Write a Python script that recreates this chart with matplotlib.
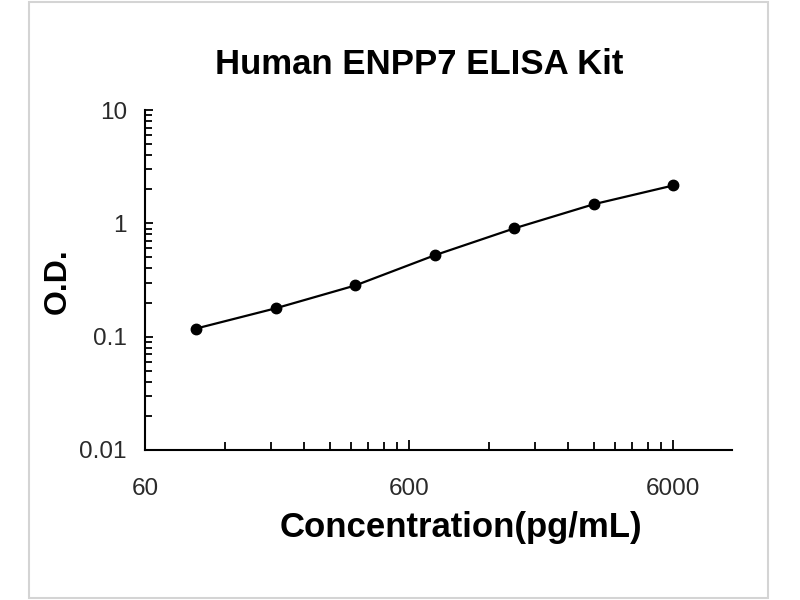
import numpy as np
import matplotlib
matplotlib.use("Agg")
import matplotlib.pyplot as plt
from matplotlib.ticker import FixedLocator, NullFormatter, FixedFormatter
from matplotlib.patches import Rectangle

# standard curve data
conc = [93.75, 187.5, 375, 750, 1500, 3000, 6000]
od = [0.118, 0.178, 0.283, 0.523, 0.903, 1.475, 2.16]

x_ticks = [60, 600, 6000]
x_tick_labels = ['60', '600', '6000']
y_ticks = [0.01, 0.1, 1, 10]
y_tick_labels = ['0.01', '0.1', '1', '10']

title = 'Human ENPP7 ELISA Kit'
x_label = 'Concentration(pg/mL)'
y_label = 'O.D.'

plt.rcParams['font.family'] = ['Liberation Sans', 'DejaVu Sans']

fig = plt.figure(figsize=(8, 6), dpi=100)
ax = fig.add_axes([145 / 800, 1 - 450 / 600, (732 - 145) / 800, (450 - 110) / 600])

ax.plot(conc, od, color='black', linewidth=1.6, marker='o', markersize=7.5)

ax.set_xscale('log')
ax.set_yscale('log')
ax.set_xlim(60, 10000)
ax.set_ylim(0.01, 10)

# ticks like excel: minors at multiples of the base value
ax.xaxis.set_major_locator(FixedLocator(x_ticks))
ax.xaxis.set_major_formatter(FixedFormatter(x_tick_labels))
x_minor = [60 * k * 10 ** d for d in (0, 1) for k in range(2, 10)]
ax.xaxis.set_minor_locator(FixedLocator(x_minor))
ax.xaxis.set_minor_formatter(NullFormatter())

ax.yaxis.set_major_locator(FixedLocator(y_ticks))
ax.yaxis.set_major_formatter(FixedFormatter(y_tick_labels))
y_minor = [k * 10.0 ** d for d in (-2, -1, 0) for k in range(2, 10)]
ax.yaxis.set_minor_locator(FixedLocator(y_minor))
ax.yaxis.set_minor_formatter(NullFormatter())

ax.tick_params(axis='both', which='both', direction='in', width=1.3, colors='black')
ax.tick_params(axis='x', which='major', length=7, pad=20, labelsize=17.5)
ax.tick_params(axis='x', which='minor', length=6)
ax.tick_params(axis='y', which='major', length=6, pad=13, labelsize=17.5)
ax.tick_params(axis='y', which='minor', length=5)
for lab in ax.get_xticklabels() + ax.get_yticklabels():
    lab.set_color('#2a2a2a')

for side in ['top', 'right']:
    ax.spines[side].set_visible(False)
for side in ['left', 'bottom']:
    ax.spines[side].set_linewidth(1.5)
    ax.spines[side].set_color('black')

fig.text(419 / 800, 1 - 65 / 600, title, ha='center', va='center',
         fontsize=25, fontweight='bold')
fig.text(461 / 800, 1 - 527 / 600, x_label, ha='center', va='center',
         fontsize=25, fontweight='bold')
fig.text(58 / 800, 1 - 281 / 600, y_label, ha='center', va='center',
         fontsize=23, fontweight='bold', rotation=90)

# light chart border
fig.patches.append(Rectangle((29 / 800, 2 / 600), (768 - 29) / 800, (598 - 2) / 600,
                             transform=fig.transFigure, fill=False,
                             edgecolor='#d4d4d4', linewidth=1.5))

fig.savefig('out.png', dpi=100, facecolor='white')
